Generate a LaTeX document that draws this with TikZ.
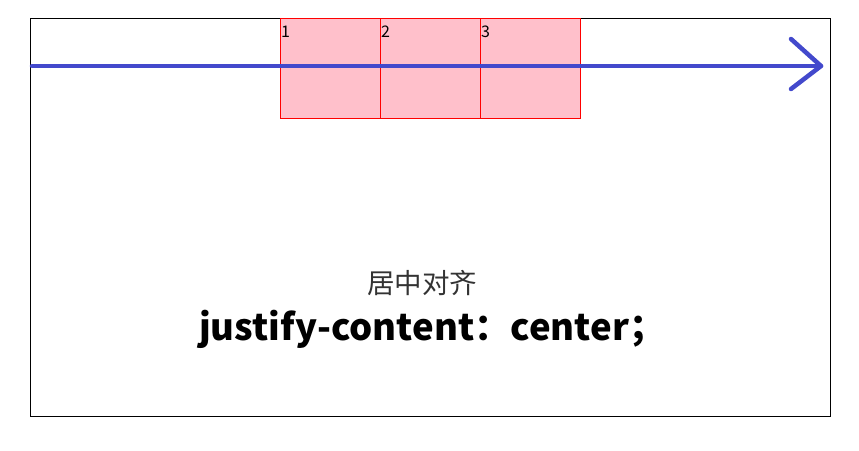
\documentclass[tikz,border=0pt]{standalone}
\usepackage{fontspec}
\setmainfont{Noto Sans CJK SC}
\definecolor{boxpink}{RGB}{255,192,203}
\definecolor{arrowblue}{RGB}{67,73,204}
\definecolor{captiongray}{RGB}{51,51,51}
\tikzset{
  itembox/.style={draw=red, fill=boxpink, line width=1pt, minimum width=100pt, minimum height=100pt, inner sep=0pt, anchor=north west},
  itemnum/.style={anchor=base west, inner sep=0pt, font=\fontsize{16}{16}\selectfont},
  bluearrow/.style={draw=arrowblue, line width=4.5pt, line cap=round, line join=round}
}
\begin{document}
\begin{tikzpicture}[x=1pt,y=-1pt]
\useasboundingbox (0,0) rectangle (859,450);
\node[draw=black, line width=1pt, minimum width=800pt, minimum height=398pt, inner sep=0pt, anchor=north west] (frame) at (30,18) {};
\node[itembox] (b1) at (280,18) {};
\node[itembox] (b2) at (380,18) {};
\node[itembox] (b3) at (480,18) {};
\node[itemnum] (n1) at (281,37) {1};
\node[itemnum] (n2) at (381,37) {2};
\node[itemnum] (n3) at (481,37) {3};
\coordinate (ls) at (32,66);
\coordinate (tip) at (821,66);
\coordinate (hu) at (791,39);
\coordinate (hd) at (791,89);
\draw[bluearrow] (ls) -- (tip);
\draw[bluearrow] (hu) -- (tip) -- (hd);
\node[text=captiongray, font=\fontsize{27.5}{27.5}\selectfont] (cap) at (422,283) {居中对齐};
\node[font=\fontsize{36.5}{36.5}\selectfont\bfseries, anchor=base west, inner sep=0pt] (css) at (199,340) {justify-content：center；};
\end{tikzpicture}
\end{document}
